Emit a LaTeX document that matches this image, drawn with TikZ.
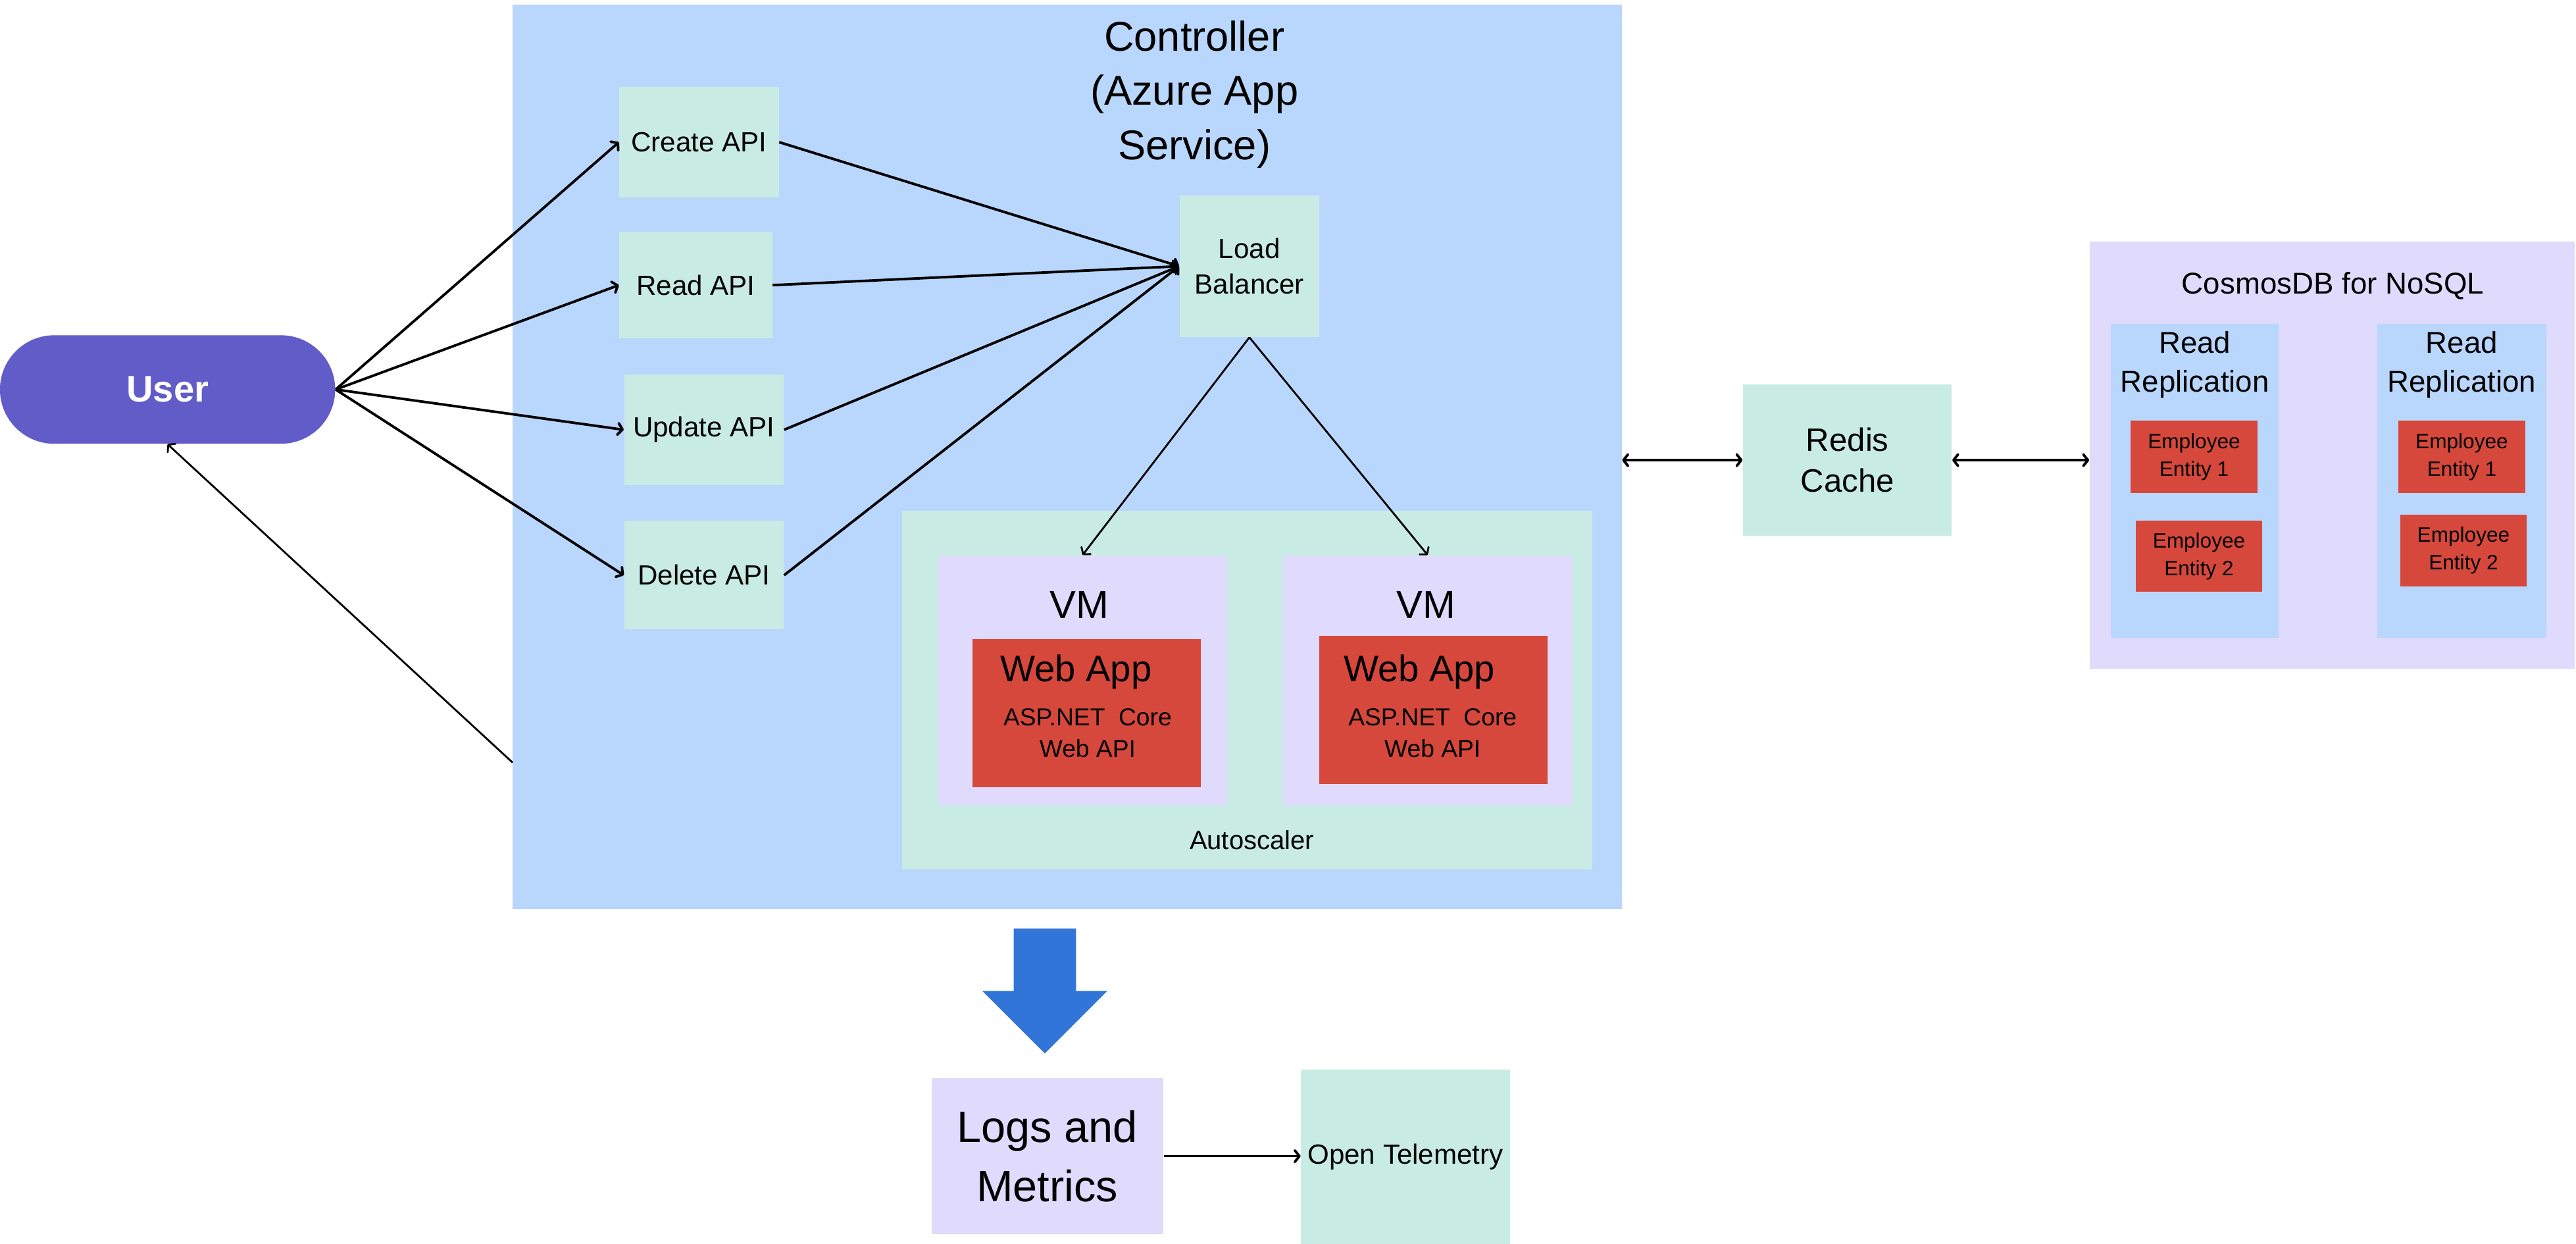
\documentclass[tikz,border=0pt]{standalone}
\usepackage{fontspec}
\setmainfont{Liberation Sans}
\usepackage{tikz}
\usetikzlibrary{arrows.meta}
\definecolor{ctrlblue}{RGB}{185,214,252}
\definecolor{mint}{RGB}{200,236,228}
\definecolor{lav}{RGB}{224,218,253}
\definecolor{appred}{RGB}{214,72,59}
\definecolor{userpurple}{RGB}{97,92,199}
\definecolor{flowblue}{RGB}{50,117,217}
\begin{document}
\begin{tikzpicture}[x=0.025cm,y=-0.025cm,
  >={Straight Barb[length=2pt,width=5pt,round]},
  box/.style={rectangle,inner sep=0pt,align=center},
  api/.style={box,fill=mint,minimum width=2.425cm,minimum height=1.675cm,font=\fontsize{12}{15}\selectfont},
  vmbox/.style={box,fill=lav,minimum width=4.4cm,minimum height=3.8cm},
  appbox/.style={box,fill=appred,minimum width=3.475cm,minimum height=2.25cm},
  replica/.style={box,fill=ctrlblue,minimum width=2.55cm,minimum height=4.775cm},
  entity/.style={box,fill=appred,minimum width=1.925cm,minimum height=1.1cm,font=\fontsize{9}{12}\selectfont},
  txt/.style={inner sep=0pt,align=center},
  link/.style={->,line width=1.1pt}]
\useasboundingbox (0,0) rectangle (1568,756.6);
\node[box,fill=ctrlblue,minimum width=16.875cm,minimum height=13.75cm] (Ctrl) at (649.5,278){};
\node[txt,font=\fontsize{18}{23.5}\selectfont] (CtrlT) at (727,57.5){Controller\\(Azure App\\Service)};
\node[api] (Create) at (425.5,86.5){Create API};
\node[api,minimum width=2.325cm,minimum height=1.625cm] (Read) at (423.5,173.5){Read API};
\node[api] (Update) at (428.5,261.5){Update API};
\node[api,minimum height=1.65cm] (Delete) at (428.5,350){Delete API};
\node[box,fill=mint,minimum width=2.125cm,minimum height=2.15cm,font=\fontsize{12}{15.6}\selectfont] (LB) at (760.5,162){Load\\Balancer};
\node[box,fill=userpurple,rounded corners=0.825cm,minimum width=5.1cm,minimum height=1.65cm,text=white,font=\fontsize{16}{19}\selectfont\bfseries] (User) at (102,237){User};
\node[box,fill=mint,minimum width=10.5cm,minimum height=5.45cm] (Auto) at (759,420){};
\node[txt,font=\fontsize{11.4}{14}\selectfont] (AutoT) at (762,511){Autoscaler};
\node[vmbox] (VMa) at (659,414){};
\node[txt,font=\fontsize{17}{20}\selectfont] (VMaT) at (657,368){VM};
\node[appbox] (Appa) at (661.5,434){};
\node[txt,font=\fontsize{16}{19}\selectfont] (AppaT) at (655,409){Web App};
\node[txt,font=\fontsize{10.6}{13.5}\selectfont] (AppaS) at (662,446){ASP.NET\ \ Core\\Web API};
\node[vmbox] (VMb) at (869,414){};
\node[txt,font=\fontsize{17}{20}\selectfont] (VMbT) at (868,368){VM};
\node[appbox] (Appb) at (872.5,432){};
\node[txt,font=\fontsize{16}{19}\selectfont] (AppbT) at (864,409){Web App};
\node[txt,font=\fontsize{10.6}{13.5}\selectfont] (AppbS) at (872,446){ASP.NET\ \ Core\\Web API};
\node[box,fill=mint,minimum width=3.175cm,minimum height=2.3cm,font=\fontsize{14}{17.7}\selectfont] (Redis) at (1124.5,280){Redis\\Cache};
\node[box,fill=lav,minimum width=7.375cm,minimum height=6.5cm] (Cosmos) at (1419.5,277){};
\node[txt,font=\fontsize{13}{16}\selectfont] (CosmosT) at (1420,174){CosmosDB for NoSQL};
\node[replica] (RepA) at (1336,292.5){};
\node[txt,font=\fontsize{13}{17}\selectfont] (RepAT) at (1336,222){Read\\Replication};
\node[entity] (EntA1) at (1335.5,278){Employee\\Entity 1};
\node[entity,minimum height=1.075cm] (EntA2) at (1338.5,338.5){Employee\\Entity 2};
\node[replica,minimum width=2.575cm] (RepB) at (1498.5,292.5){};
\node[txt,font=\fontsize{13}{17}\selectfont] (RepBT) at (1498.5,222){Read\\Replication};
\node[entity] (EntB1) at (1498.5,278){Employee\\Entity 1};
\node[entity] (EntB2) at (1499.5,335){Employee\\Entity 2};
\node[box,fill=lav,minimum width=3.525cm,minimum height=2.375cm,font=\fontsize{19}{25.5}\selectfont] (Logs) at (637.5,703.5){Logs and\\Metrics};
\node[box,fill=mint,minimum width=3.175cm,minimum height=2.65cm,font=\fontsize{12}{15}\selectfont] (OTel) at (855.5,704){Open Telemetry};
\coordinate (Ret) at (312,464);
\fill[flowblue] (617,565) -- (655,565) -- (655,603) -- (674,603) -- (636,641) -- (598,603) -- (617,603) -- cycle;
\foreach \to in {Create,Read,Update,Delete}
  \draw[link] (User.east) -- (\to.west);
\foreach \from in {Create,Read,Update,Delete}
  \draw[link] (\from.east) -- (LB.west);
\foreach \to in {VMa,VMb}
  \draw[link,line width=0.8pt] (LB.south) -- (\to.north);
\draw[link,line width=0.8pt] (Ret) -- (User.south);
\draw[<->,line width=1.1pt] (Redis.west -| Ctrl.east) -- (Redis.west);
\draw[<->,line width=1.1pt] (Redis.east) -- (Redis.east -| Cosmos.west);
\draw[link] (Logs.east) -- (Logs.east -| OTel.west);
\end{tikzpicture}
\end{document}
